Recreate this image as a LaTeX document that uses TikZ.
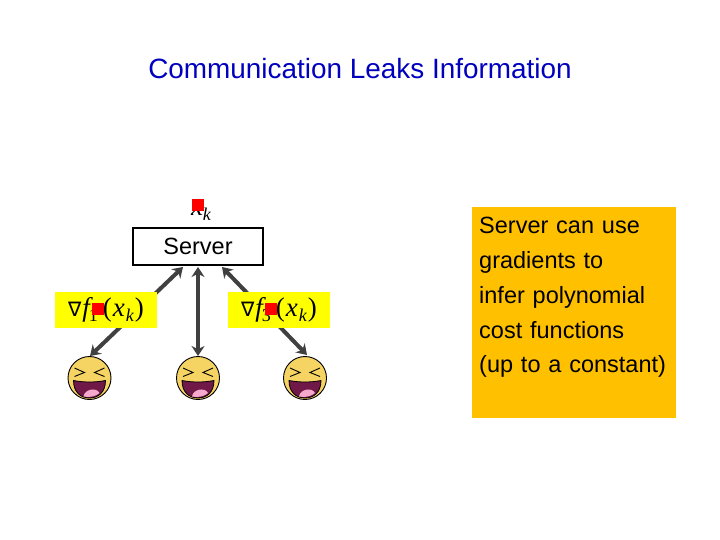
\documentclass[tikz,border=0pt]{standalone}
\usepackage{fontspec}
\usetikzlibrary{arrows.meta}
\setmainfont{Liberation Sans}
\newfontfamily\mathserif{Liberation Serif}
\newfontfamily\nablafont{DejaVu Sans}
\definecolor{titleblue}{RGB}{0,0,190}
\definecolor{panelorange}{RGB}{255,192,0}
\definecolor{hiyellow}{RGB}{255,255,0}
\definecolor{arrowgray}{RGB}{64,64,64}
\definecolor{faceyellow}{RGB}{246,212,100}
\definecolor{mouthred}{RGB}{112,24,72}
\definecolor{tonguepink}{RGB}{245,170,205}
\newcommand{\subscr}[1]{\raisebox{-4.5pt}{\fontsize{18}{18}\selectfont #1}}
\newcommand{\gradlabel}[1]{\raisebox{-2pt}{\mathserif\itshape{\nablafont\fontsize{20}{20}\selectfont ∇}\hspace{1pt}f\hspace{-1pt}\subscr{\upshape #1}\hspace{5pt}{\upshape(}\hspace{1pt}x\hspace{1pt}\subscr{k}\hspace{1pt}{\upshape)}}\hspace{9pt}}
\newcommand{\smileyface}[1]{%
  \node[facebase] (#1) at (0,0) {};
  \draw[faceline] (-15,-10) -- (-5,-5.5) -- (-15,-1.5);
  \draw[faceline] (15,-10) -- (5,-5.5) -- (15,-1.5);
  \fill[mouthred,draw=black,line width=0.8pt] (-16,2.5) .. controls (-6,4.5) and (6,4.5) .. (16,2.5) .. controls (16,14) and (9,20) .. (0,20) .. controls (-9,20) and (-16,14) .. (-16,2.5) -- cycle;
  \fill[tonguepink] (-6,18.5) .. controls (-5,11) and (7,9) .. (10,15) .. controls (7,18) and (0,20) .. (-6,18.5) -- cycle;}
\tikzset{
  x=1pt,y=-1pt,
  titletext/.style={text=titleblue,font=\fontsize{27.9}{32}\selectfont,inner sep=0pt,anchor=center},
  serverbox/.style={draw=black,line width=2.6pt,fill=white,minimum width=130pt,minimum height=37pt,inner sep=0pt,font=\fontsize{23.5}{27}\selectfont},
  highlight/.style={fill=hiyellow,minimum width=102pt,minimum height=36pt,inner sep=0pt,font=\fontsize{27}{30}\selectfont},
  redmark/.style={fill=red,minimum size=12pt,inner sep=0pt},
  linktwo/.style={draw=arrowgray,line width=4pt,{Stealth[length=10pt,width=13pt]}-{Stealth[length=10pt,width=13pt]}},
  facebase/.style={circle,draw=black,line width=0.9pt,fill=faceyellow,minimum size=43pt,inner sep=0pt},
  faceline/.style={draw=black,line width=0.9pt},
  paneltext/.style={font=\fontsize{23.5}{34.8}\selectfont,align=left,inner sep=0pt,anchor=north west,text width=197pt},
}
\begin{document}
\begin{tikzpicture}
\useasboundingbox (0,0) rectangle (720,540);
\fill[white] (0,0) rectangle (720,540);
\node[titletext] (title) at (360,69) {Communication Leaks Information};
\node[fill=panelorange,minimum width=204pt,minimum height=211pt,inner sep=0pt] (panel) at (574,312.5) {};
\node[paneltext] (paneltxt) at (479,217) {Server can use\\gradients to\\infer polynomial\\cost functions\\(up to a constant)};
\node[serverbox] (server) at (198,246.5) {Server};
\coordinate (sl) at (183,267);
\coordinate (sm) at (198,267);
\coordinate (sr) at (222,267);
\begin{scope}[shift={(89.5,378)}]\smileyface{faceA}\end{scope}
\begin{scope}[shift={(198,378)}]\smileyface{faceB}\end{scope}
\begin{scope}[shift={(305,378)}]\smileyface{faceC}\end{scope}
\coordinate (fa) at (90,356);
\coordinate (fb) at (198,356);
\coordinate (fc) at (307,355);
\draw[linktwo] (sl) -- (fa);
\draw[linktwo] (sm) -- (fb);
\draw[linktwo] (sr) -- (fc);
\node[highlight] (gradA) at (106,310) {\gradlabel{1}};
\node[highlight] (gradC) at (279,310) {\gradlabel{3}};
\node[inner sep=0pt,font=\fontsize{27}{30}\selectfont] (xk) at (201,212) {{\mathserif\itshape x\subscr{k}}};
\node[redmark] (m0) at (198,205) {};
\node[redmark] (m1) at (98,309) {};
\node[redmark] (m3) at (271,309) {};
\end{tikzpicture}
\end{document}
